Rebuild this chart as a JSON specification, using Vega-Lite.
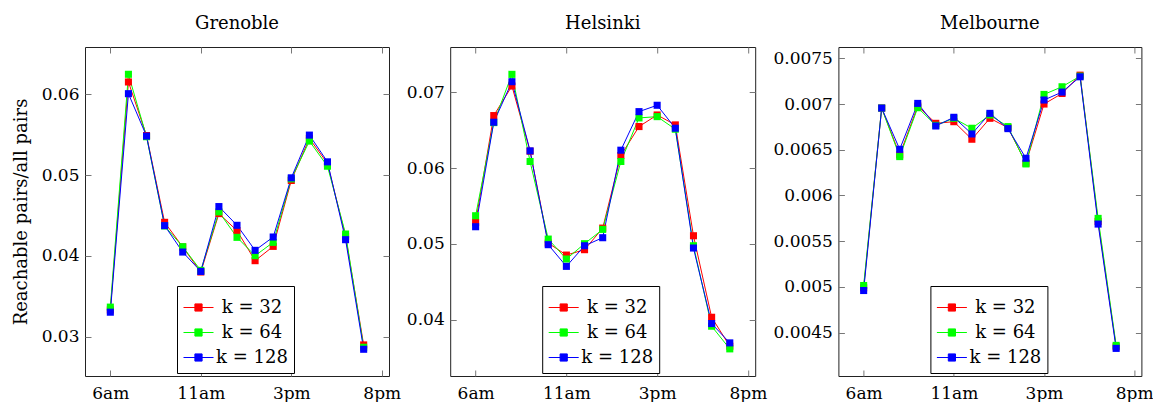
{
  "$schema": "https://vega.github.io/schema/vega-lite/v6.json",
  "background": "white",
  "padding": {"left": 11, "top": 14, "right": 0, "bottom": 0},
  "autosize": {"type": "pad"},
  "spacing": 2.2,
  "datasets": {
    "grenoble": [
      {"t":0,"k":32,"v":0.0333},{"t":1,"k":32,"v":0.06153},{"t":2,"k":32,"v":0.0549},{"t":3,"k":32,"v":0.04415},{"t":4,"k":32,"v":0.0411},{"t":5,"k":32,"v":0.038},{"t":6,"k":32,"v":0.04523},{"t":7,"k":32,"v":0.04312},{"t":8,"k":32,"v":0.0394},{"t":9,"k":32,"v":0.04117},{"t":10,"k":32,"v":0.04933},{"t":11,"k":32,"v":0.05454},{"t":12,"k":32,"v":0.05144},{"t":13,"k":32,"v":0.04242},{"t":14,"k":32,"v":0.02897},
      {"t":0,"k":64,"v":0.03365},{"t":1,"k":64,"v":0.06248},{"t":2,"k":64,"v":0.05475},{"t":3,"k":64,"v":0.0437},{"t":4,"k":64,"v":0.04113},{"t":5,"k":64,"v":0.0382},{"t":6,"k":64,"v":0.04544},{"t":7,"k":64,"v":0.04229},{"t":8,"k":64,"v":0.04002},{"t":9,"k":64,"v":0.04167},{"t":10,"k":64,"v":0.04953},{"t":11,"k":64,"v":0.05421},{"t":12,"k":64,"v":0.0511},{"t":13,"k":64,"v":0.0427},{"t":14,"k":64,"v":0.02868},
      {"t":0,"k":128,"v":0.03302},{"t":1,"k":128,"v":0.06008},{"t":2,"k":128,"v":0.05483},{"t":3,"k":128,"v":0.04374},{"t":4,"k":128,"v":0.04047},{"t":5,"k":128,"v":0.03807},{"t":6,"k":128,"v":0.0461},{"t":7,"k":128,"v":0.04378},{"t":8,"k":128,"v":0.04068},{"t":9,"k":128,"v":0.04233},{"t":10,"k":128,"v":0.04966},{"t":11,"k":128,"v":0.05495},{"t":12,"k":128,"v":0.05164},{"t":13,"k":128,"v":0.042},{"t":14,"k":128,"v":0.02843}
    ],
    "helsinki": [
      {"t":0,"k":32,"v":0.05283},{"t":1,"k":32,"v":0.06693},{"t":2,"k":32,"v":0.07083},{"t":3,"k":32,"v":0.06223},{"t":4,"k":32,"v":0.0501},{"t":5,"k":32,"v":0.04852},{"t":6,"k":32,"v":0.04923},{"t":7,"k":32,"v":0.05208},{"t":8,"k":32,"v":0.06166},{"t":9,"k":32,"v":0.06548},{"t":10,"k":32,"v":0.06701},{"t":11,"k":32,"v":0.0657},{"t":12,"k":32,"v":0.05107},{"t":13,"k":32,"v":0.04031},{"t":14,"k":32,"v":0.03649},
      {"t":0,"k":64,"v":0.05371},{"t":1,"k":64,"v":0.066},{"t":2,"k":64,"v":0.07237},{"t":3,"k":64,"v":0.06087},{"t":4,"k":64,"v":0.05063},{"t":5,"k":64,"v":0.048},{"t":6,"k":64,"v":0.05002},{"t":7,"k":64,"v":0.05191},{"t":8,"k":64,"v":0.06087},{"t":9,"k":64,"v":0.06662},{"t":10,"k":64,"v":0.06679},{"t":11,"k":64,"v":0.06513},{"t":12,"k":64,"v":0.04975},{"t":13,"k":64,"v":0.03913},{"t":14,"k":64,"v":0.03614},
      {"t":0,"k":128,"v":0.05226},{"t":1,"k":128,"v":0.06605},{"t":2,"k":128,"v":0.0714},{"t":3,"k":128,"v":0.06227},{"t":4,"k":128,"v":0.04989},{"t":5,"k":128,"v":0.04703},{"t":6,"k":128,"v":0.04975},{"t":7,"k":128,"v":0.05081},{"t":8,"k":128,"v":0.06236},{"t":9,"k":128,"v":0.06745},{"t":10,"k":128,"v":0.06829},{"t":11,"k":128,"v":0.06526},{"t":12,"k":128,"v":0.04945},{"t":13,"k":128,"v":0.03948},{"t":14,"k":128,"v":0.03693}
    ],
    "melbourne": [
      {"t":0,"k":32,"v":0.00499},{"t":1,"k":32,"v":0.006956},{"t":2,"k":32,"v":0.006444},{"t":3,"k":32,"v":0.006978},{"t":4,"k":32,"v":0.006789},{"t":5,"k":32,"v":0.006807},{"t":6,"k":32,"v":0.006615},{"t":7,"k":32,"v":0.006844},{"t":8,"k":32,"v":0.006742},{"t":9,"k":32,"v":0.006353},{"t":10,"k":32,"v":0.007},{"t":11,"k":32,"v":0.007116},{"t":12,"k":32,"v":0.007316},{"t":13,"k":32,"v":0.005716},{"t":14,"k":32,"v":0.004345},
      {"t":0,"k":64,"v":0.005015},{"t":1,"k":64,"v":0.006956},{"t":2,"k":64,"v":0.006425},{"t":3,"k":64,"v":0.00696},{"t":4,"k":64,"v":0.006767},{"t":5,"k":64,"v":0.006844},{"t":6,"k":64,"v":0.006735},{"t":7,"k":64,"v":0.00688},{"t":8,"k":64,"v":0.006753},{"t":9,"k":64,"v":0.006345},{"t":10,"k":64,"v":0.007105},{"t":11,"k":64,"v":0.007189},{"t":12,"k":64,"v":0.007305},{"t":13,"k":64,"v":0.005749},{"t":14,"k":64,"v":0.00436},
      {"t":0,"k":128,"v":0.00496},{"t":1,"k":128,"v":0.006956},{"t":2,"k":128,"v":0.006505},{"t":3,"k":128,"v":0.007007},{"t":4,"k":128,"v":0.00676},{"t":5,"k":128,"v":0.006855},{"t":6,"k":128,"v":0.006673},{"t":7,"k":128,"v":0.006898},{"t":8,"k":128,"v":0.006731},{"t":9,"k":128,"v":0.006407},{"t":10,"k":128,"v":0.007044},{"t":11,"k":128,"v":0.007131},{"t":12,"k":128,"v":0.007298},{"t":13,"k":128,"v":0.005687},{"t":14,"k":128,"v":0.004327}
    ]
  },
  "resolve": {"scale": {"color": "independent"}, "legend": {"color": "independent"}},
  "hconcat": [
    {
      "title": {"text": "Grenoble"},
      "width": 304, "height": 329,
      "data": {"name": "grenoble"},
      "encoding": {
        "x": {"field": "t", "type": "quantitative", "scale": {"domain": [-1.4, 15.4], "nice": false, "zero": false},
              "axis": {"orient": "bottom", "values": [0, 5, 10, 15], "title": null, "labelPadding": 15, "labelExpr": "datum.value==0?'6am':datum.value==5?'11am':datum.value==10?'3pm':'8pm'"}},
        "y": {"field": "v", "type": "quantitative", "scale": {"domain": [0.02512, 0.06586], "nice": false, "zero": false},
              "axis": {"orient": "left", "values": [0.03, 0.04, 0.05, 0.06], "title": "Reachable pairs/all pairs", "titlePadding": 11, "minExtent": 44, "maxExtent": 44, "labelExpr": "toString(datum.value)"}},
        "color": {"field": "k", "type": "nominal", "scale": {"domain": [32, 64, 128], "range": ["#ff0000", "#00ff00", "#0000ff"]},
                  "legend": {"title": null, "orient": "none", "legendX": 92, "legendY": 239, "labelExpr": "'k = ' + datum.label",
                             "encode": {"symbols": {"update": {"fill": {"signal": "datum.value==32?'#ff0000':datum.value==64?'#00ff00':'#0000ff'"}, "stroke": {"signal": "datum.value==32?'#ff0000':datum.value==64?'#00ff00':'#0000ff'"}, "opacity": {"value": 1}, "strokeOpacity": {"value": 1}, "fillOpacity": {"value": 1}}}}}}
      },
      "layer": [
        {"mark": {"type": "line", "strokeWidth": 1}},
        {"mark": {"type": "point", "shape": "square", "filled": true, "size": 50, "opacity": 1},
         "encoding": {
           "x": {"field": "t", "type": "quantitative", "scale": {"domain": [-1.4, 15.4], "nice": false, "zero": false},
                 "axis": {"orient": "top", "values": [0, 5, 10, 15], "labels": false, "title": null, "minExtent": 0, "maxExtent": 0}},
           "y": {"field": "v", "type": "quantitative", "scale": {"domain": [0.02512, 0.06586], "nice": false, "zero": false},
                 "axis": {"orient": "right", "values": [0.03, 0.04, 0.05, 0.06], "labels": false, "title": null, "minExtent": 0, "maxExtent": 0}}
         }}
      ],
      "resolve": {"axis": {"x": "independent", "y": "independent"}}
    },
    {
      "title": {"text": "Helsinki"},
      "width": 305, "height": 329,
      "data": {"name": "helsinki"},
      "encoding": {
        "x": {"field": "t", "type": "quantitative", "scale": {"domain": [-1.4, 15.4], "nice": false, "zero": false},
              "axis": {"orient": "bottom", "values": [0, 5, 10, 15], "title": null, "labelPadding": 15, "labelExpr": "datum.value==0?'6am':datum.value==5?'11am':datum.value==10?'3pm':'8pm'"}},
        "y": {"field": "v", "type": "quantitative", "scale": {"domain": [0.03256, 0.07598], "nice": false, "zero": false},
              "axis": {"orient": "left", "values": [0.04, 0.05, 0.06, 0.07], "title": null, "minExtent": 45, "maxExtent": 45, "labelExpr": "toString(datum.value)"}},
        "color": {"field": "k", "type": "nominal", "scale": {"domain": [32, 64, 128], "range": ["#ff0000", "#00ff00", "#0000ff"]},
                  "legend": {"title": null, "orient": "none", "legendX": 92, "legendY": 239, "labelExpr": "'k = ' + datum.label",
                             "encode": {"symbols": {"update": {"fill": {"signal": "datum.value==32?'#ff0000':datum.value==64?'#00ff00':'#0000ff'"}, "stroke": {"signal": "datum.value==32?'#ff0000':datum.value==64?'#00ff00':'#0000ff'"}, "opacity": {"value": 1}, "strokeOpacity": {"value": 1}, "fillOpacity": {"value": 1}}}}}}
      },
      "layer": [
        {"mark": {"type": "line", "strokeWidth": 1}},
        {"mark": {"type": "point", "shape": "square", "filled": true, "size": 50, "opacity": 1},
         "encoding": {
           "x": {"field": "t", "type": "quantitative", "scale": {"domain": [-1.4, 15.4], "nice": false, "zero": false},
                 "axis": {"orient": "top", "values": [0, 5, 10, 15], "labels": false, "title": null, "minExtent": 0, "maxExtent": 0}},
           "y": {"field": "v", "type": "quantitative", "scale": {"domain": [0.03256, 0.07598], "nice": false, "zero": false},
                 "axis": {"orient": "right", "values": [0.04, 0.05, 0.06, 0.07], "labels": false, "title": null, "minExtent": 0, "maxExtent": 0}}
         }}
      ],
      "resolve": {"axis": {"x": "independent", "y": "independent"}}
    },
    {
      "title": {"text": "Melbourne"},
      "width": 303, "height": 329,
      "data": {"name": "melbourne"},
      "encoding": {
        "x": {"field": "t", "type": "quantitative", "scale": {"domain": [-1.4, 15.4], "nice": false, "zero": false},
              "axis": {"orient": "bottom", "values": [0, 5, 10, 15], "title": null, "labelPadding": 15, "labelExpr": "datum.value==0?'6am':datum.value==5?'11am':datum.value==10?'3pm':'8pm'"}},
        "y": {"field": "v", "type": "quantitative", "scale": {"domain": [0.004025, 0.007624], "nice": false, "zero": false},
              "axis": {"orient": "left", "values": [0.0045, 0.005, 0.0055, 0.006, 0.0065, 0.007, 0.0075], "title": null, "minExtent": 67, "maxExtent": 67, "labelExpr": "toString(datum.value)"}},
        "color": {"field": "k", "type": "nominal", "scale": {"domain": [32, 64, 128], "range": ["#ff0000", "#00ff00", "#0000ff"]},
                  "legend": {"title": null, "orient": "none", "legendX": 92, "legendY": 239, "labelExpr": "'k = ' + datum.label",
                             "encode": {"symbols": {"update": {"fill": {"signal": "datum.value==32?'#ff0000':datum.value==64?'#00ff00':'#0000ff'"}, "stroke": {"signal": "datum.value==32?'#ff0000':datum.value==64?'#00ff00':'#0000ff'"}, "opacity": {"value": 1}, "strokeOpacity": {"value": 1}, "fillOpacity": {"value": 1}}}}}}
      },
      "layer": [
        {"mark": {"type": "line", "strokeWidth": 1}},
        {"mark": {"type": "point", "shape": "square", "filled": true, "size": 50, "opacity": 1},
         "encoding": {
           "x": {"field": "t", "type": "quantitative", "scale": {"domain": [-1.4, 15.4], "nice": false, "zero": false},
                 "axis": {"orient": "top", "values": [0, 5, 10, 15], "labels": false, "title": null, "minExtent": 0, "maxExtent": 0}},
           "y": {"field": "v", "type": "quantitative", "scale": {"domain": [0.004025, 0.007624], "nice": false, "zero": false},
                 "axis": {"orient": "right", "values": [0.0045, 0.005, 0.0055, 0.006, 0.0065, 0.007, 0.0075], "labels": false, "title": null, "minExtent": 0, "maxExtent": 0}}
         }}
      ],
      "resolve": {"axis": {"x": "independent", "y": "independent"}}
    }
  ],
  "config": {
    "view": {"stroke": "#222", "strokeWidth": 1},
    "axis": {"domain": false, "grid": false, "tickColor": "#777", "tickSize": -6, "tickWidth": 1,
             "labelFont": "DejaVu Serif", "labelFontSize": 17, "labelColor": "#000", "labelPadding": 12, "labelFlush": false, "labelOverlap": false,
             "titleFont": "DejaVu Serif", "titleFontSize": 18, "titleFontWeight": "normal", "titleColor": "#000"},
    "title": {"font": "DejaVu Serif", "fontSize": 18, "fontWeight": "normal", "color": "#000", "frame": "group", "anchor": "middle", "offset": 14},
    "legend": {"strokeColor": "#000", "fillColor": "#fff", "padding": 6, "cornerRadius": 0, "strokeWidth": 1,
               "symbolType": "M-1,0H1M-0.24,-0.24H0.24V0.24H-0.24Z", "symbolSize": 900, "symbolStrokeWidth": 1,
               "labelFont": "DejaVu Serif", "labelFontSize": 18, "labelColor": "#000", "labelAlign": "center", "labelOffset": 38, "labelLimit": 0,
               "rowPadding": -3}
  }
}
